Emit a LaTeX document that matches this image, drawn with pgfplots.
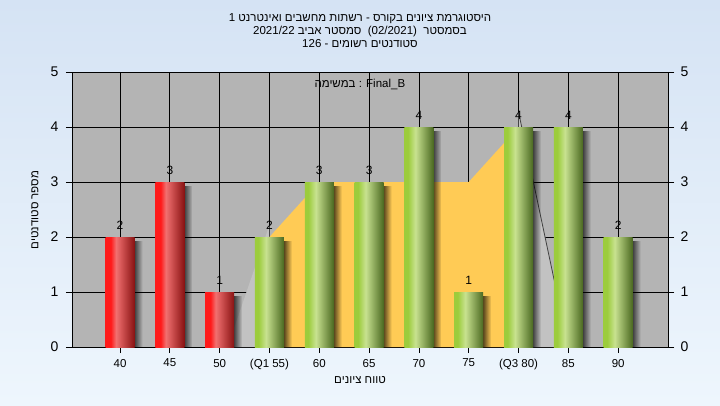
\documentclass[border=0pt]{standalone}
\usepackage{fontspec}
\setmainfont{Liberation Sans}
\newfontfamily\heb[Script=Hebrew]{Liberation Sans}
\TeXXeTstate=1
\usepackage{pgfplots}
\pgfplotsset{compat=1.18}
\usetikzlibrary{fadings}

\definecolor{bgtop}{HTML}{D5E3F4}
\definecolor{bgbot}{HTML}{EEF6FD}
\definecolor{plotbg}{HTML}{B4B4B4}
\definecolor{areaor}{HTML}{FFCB55}
\definecolor{areagr}{HTML}{C2C2C2}
\definecolor{rA}{HTML}{FF1A1A}
\definecolor{rB}{HTML}{F27070}
\definecolor{rC}{HTML}{881212}
\definecolor{gA}{HTML}{9CCC3C}
\definecolor{gB}{HTML}{C8E290}
\definecolor{gC}{HTML}{4A6820}
% the path's box maps to 25bp..75bp of the shading
\pgfdeclarehorizontalshading{redbar}{100bp}{color(0bp)=(rA); color(25bp)=(rA); color(34bp)=(rA); color(43bp)=(rB); color(75bp)=(rC); color(100bp)=(rC)}
\pgfdeclarehorizontalshading{greenbar}{100bp}{color(0bp)=(gA); color(25bp)=(gA); color(31bp)=(gA); color(44bp)=(gB); color(75bp)=(gC); color(100bp)=(gC)}

% one bar: x, value, shading
\newcommand{\onebar}[3]{%
  \addplot[ybar, bar width=8pt, bar shift=18.5pt, draw=none, fill=black, fill opacity=0.65, path fading=east]
    coordinates {(#1,#2-0.07)};
  \addplot[ybar, bar width=29pt, bar shift=0pt, draw=none, shade, shading=#3]
    coordinates {(#1,#2)};
}

\begin{document}
\begin{tikzpicture}
\useasboundingbox (0,0) rectangle (720pt,405pt);
\shade[top color=bgtop, bottom color=bgbot] (0,0) rectangle (720pt,405pt);

\begin{axis}[
  at={(72pt,58pt)}, anchor=south west,
  width=596pt, height=275pt, scale only axis,
  xmin=-0.964, xmax=11.0, ymin=0, ymax=5,
  axis background/.style={fill=plotbg},
  axis line style={black, line width=0.8pt},
  xtick={0,...,10},
  xticklabels={40,45,50,(Q1 55),60,65,70,75,(Q3 80),85,90},
  ytick={0,...,5},
  xtick pos=left, ytick pos=both, yticklabel pos=left,
  grid=major, grid style={black, line width=0.8pt},
  tick align=outside, major tick length=6pt,
  tick style={black, line width=0.8pt},
  /pgf/number format/assume math mode=true,
  xticklabel style={font=\fontsize{11.5}{12}\selectfont, yshift=-2.5pt},
  yticklabel style={font=\fontsize{14}{14}\selectfont, xshift=-4pt},
  clip=false,
]
% light gray area parts outside Q1..Q3
\addplot[fill=areagr, draw=none] coordinates {(2.16,0) (3,2.22) (3,0)} \closedcycle;
\addplot[fill=areagr, draw=none] coordinates {(8,0) (8,4.27) (9,0)} \closedcycle;
% orange area between Q1 and Q3
\addplot[fill=areaor, draw=none] coordinates {(3,2) (4,3) (5,3) (6,3) (7,3) (8,4)} \closedcycle;
\addplot[draw=black!75, line width=0.8pt] coordinates {(8,4.27) (9,0)};
% bars
\onebar{0}{2}{redbar}
\onebar{1}{3}{redbar}
\onebar{2}{1}{redbar}
\onebar{3}{2}{greenbar}
\onebar{4}{3}{greenbar}
\onebar{5}{3}{greenbar}
\onebar{6}{4}{greenbar}
\onebar{7}{1}{greenbar}
\onebar{8}{4}{greenbar}
\onebar{9}{4}{greenbar}
\onebar{10}{2}{greenbar}
% value labels
\addplot[draw=none, mark=none, nodes near coords, point meta=explicit symbolic,
  every node near coord/.append style={anchor=south, yshift=4pt, black, font=\fontsize{12}{12}\selectfont}]
  coordinates {(0,2)[2] (1,3)[3] (2,1)[1] (3,2)[2] (4,3)[3] (5,3)[3] (6,4)[4] (7,1)[1] (8,4)[4] (9,4)[4] (10,2)[2]};
\node[font=\fontsize{11.5}{12}\selectfont, black] at (rel axis cs:0.483,0.953) {{\heb\beginR במשימה\endR} : Final\_B};
\end{axis}

\begin{axis}[
  at={(72pt,58pt)}, anchor=south west,
  width=596pt, height=275pt, scale only axis,
  xmin=-0.964, xmax=11.0, ymin=0, ymax=5,
  axis x line=none, axis y line*=right,
  axis line style={black, line width=0.8pt},
  ytick={0,...,5},
  tick align=outside, major tick length=6pt,
  tick style={black, line width=0.8pt},
  /pgf/number format/assume math mode=true,
  yticklabel style={font=\fontsize{14}{14}\selectfont, xshift=3pt},
]
\addplot[draw=none] coordinates {(0,0)};
\end{axis}

\node[font=\fontsize{11.5}{13}\selectfont, align=center] at (360pt,374pt) {%
{\heb\beginR היסטוגרמת ציונים בקורס - רשתות מחשבים ואינטרנט \beginL1\endL\endR}\\
{\heb\beginR בסמסטר \ \beginL(02/2021)\endL{} \ סמסטר אביב \beginL2021/22\endL\endR}\\
{\heb\beginR סטודנטים רשומים - \beginL126\endL\endR}};
\node[font=\fontsize{11.5}{12}\selectfont, rotate=90] at (35pt,195pt) {\heb\beginR מספר סטודנטים\endR};
\node[font=\fontsize{11.5}{12}\selectfont] at (360pt,25pt) {\heb\beginR טווח ציונים\endR};
\end{tikzpicture}
\end{document}
